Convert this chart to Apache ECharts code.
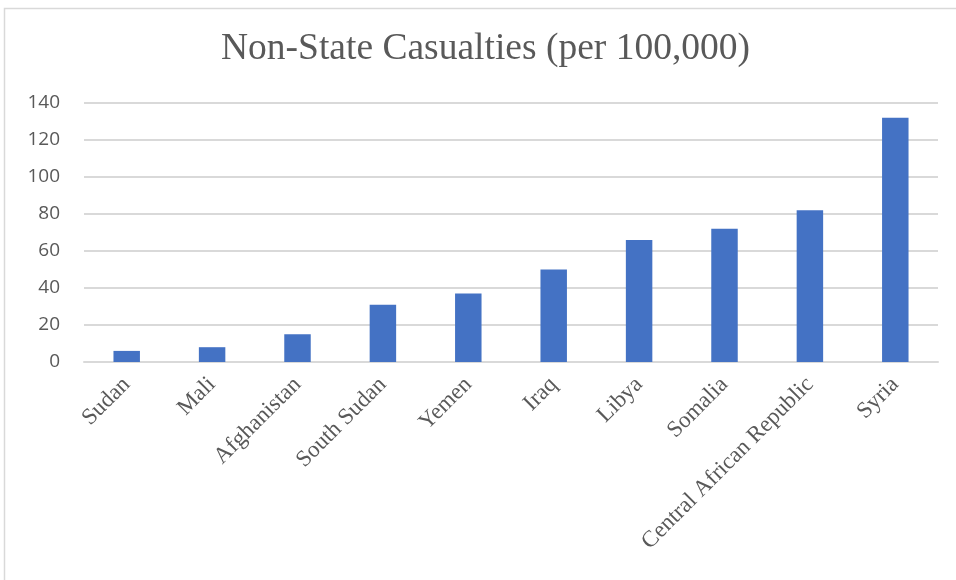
<!DOCTYPE html>
<html>
<head>
<meta charset="utf-8">
<script src="https://cdn.jsdelivr.net/npm/echarts@6/dist/echarts.min.js"></script>
<style>
  html, body { margin: 0; padding: 0; background: #fff; }
  #chart { width: 956px; height: 580px; }
</style>
</head>
<body>
<div id="chart"></div>
<script>
var countries = ['Sudan', 'Mali', 'Afghanistan', 'South Sudan', 'Yemen', 'Iraq', 'Libya', 'Somalia', 'Central African Republic', 'Syria'];
var casualties = [6, 8, 15, 31, 37, 50, 66, 72, 82, 132];
var yTicks = [0, 20, 40, 60, 80, 100, 120, 140];

var myChart = echarts.init(document.getElementById('chart'));

var option = {
  backgroundColor: '#fff',
  animation: false,
  title: {
    text: 'Non-State Casualties (per 100,000)',
    left: 216,
    top: 25,
    textStyle: {
      fontFamily: 'Liberation Serif',
      fontWeight: 'normal',
      fontSize: 37.5,
      color: '#595959'
    }
  },
  graphic: [
    {
      type: 'rect',
      shape: { x: 4.5, y: 8.5, width: 970, height: 600 },
      style: { fill: 'none', stroke: '#d9d9d9', lineWidth: 1.5 },
      silent: true
    }
  ],
  grid: {
    left: 84,
    right: 18,
    top: 103,
    height: 259
  },
  xAxis: {
    type: 'category',
    data: countries,
    axisLine: { lineStyle: { color: '#d9d9d9', width: 2 } },
    axisTick: { show: false },
    axisLabel: {
      rotate: 45,
      margin: 19,
      interval: 0,
      fontFamily: 'Liberation Serif',
      fontSize: 23,
      color: '#595959'
    }
  },
  yAxis: {
    type: 'value',
    min: 0,
    max: 140,
    interval: 20,
    axisLine: { show: false },
    axisTick: { show: false },
    splitLine: { lineStyle: { color: '#d9d9d9', width: 2 } },
    axisLabel: {
      margin: 24,
      fontFamily: 'Open Sans',
      fontSize: 19,
      color: '#595959',
      formatter: function (v) { return yTicks.indexOf(v) >= 0 ? String(v) : ''; }
    }
  },
  series: [
    {
      name: 'Casualties',
      type: 'bar',
      barWidth: '31%',
      data: casualties,
      itemStyle: { color: '#4472C4' }
    }
  ]
};

option && myChart.setOption(option);
</script>
</body>
</html>
